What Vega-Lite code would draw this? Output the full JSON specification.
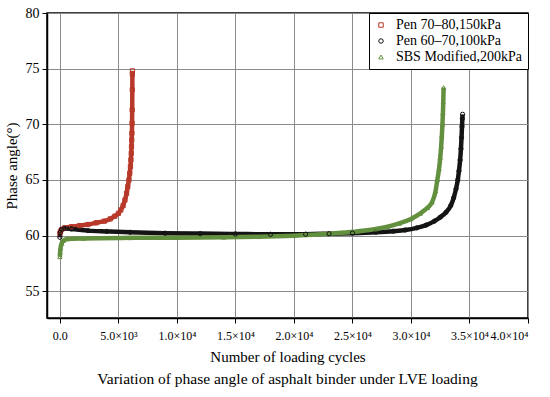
{
  "$schema": "https://vega.github.io/schema/vega-lite/v6.json",
  "width": 481,
  "height": 305,
  "autosize": "none",
  "padding": {"left": 47, "top": 13, "right": 22, "bottom": 79},
  "background": "white",
  "config": {
    "font": "Liberation Serif",
    "view": {"stroke": "black", "strokeWidth": 1.5},
    "axis": {
      "labelFont": "Liberation Serif",
      "titleFont": "Liberation Serif",
      "labelColor": "black",
      "titleColor": "black",
      "titleFontWeight": "normal",
      "domainColor": "black",
      "domainWidth": 1.5,
      "tickColor": "black",
      "tickWidth": 1,
      "tickSize": 5,
      "gridColor": "#8a8a8a",
      "gridWidth": 1,
      "gridOpacity": 1
    },
    "legend": {
      "labelFont": "Liberation Serif",
      "labelColor": "black"
    }
  },
  "title": {
    "text": "Variation of phase angle of asphalt binder under LVE loading",
    "orient": "bottom",
    "font": "Liberation Serif",
    "fontSize": 15.5,
    "fontWeight": "normal",
    "color": "black",
    "offset": 8
  },
  "data": {
    "values": [
      {"s": "Pen 70–80,150kPa", "n": 0, "p": 60.2},
      {"s": "Pen 70–80,150kPa", "n": 50, "p": 60.4},
      {"s": "Pen 70–80,150kPa", "n": 150, "p": 60.55},
      {"s": "Pen 70–80,150kPa", "n": 400, "p": 60.7},
      {"s": "Pen 70–80,150kPa", "n": 1000, "p": 60.8},
      {"s": "Pen 70–80,150kPa", "n": 1700, "p": 60.9},
      {"s": "Pen 70–80,150kPa", "n": 2400, "p": 61.0},
      {"s": "Pen 70–80,150kPa", "n": 3100, "p": 61.15},
      {"s": "Pen 70–80,150kPa", "n": 3800, "p": 61.3},
      {"s": "Pen 70–80,150kPa", "n": 4300, "p": 61.5},
      {"s": "Pen 70–80,150kPa", "n": 4700, "p": 61.75},
      {"s": "Pen 70–80,150kPa", "n": 5000, "p": 62.0},
      {"s": "Pen 70–80,150kPa", "n": 5200, "p": 62.3},
      {"s": "Pen 70–80,150kPa", "n": 5400, "p": 62.7},
      {"s": "Pen 70–80,150kPa", "n": 5560, "p": 63.2},
      {"s": "Pen 70–80,150kPa", "n": 5700, "p": 63.8},
      {"s": "Pen 70–80,150kPa", "n": 5800, "p": 64.4},
      {"s": "Pen 70–80,150kPa", "n": 5900, "p": 65.0},
      {"s": "Pen 70–80,150kPa", "n": 5970, "p": 65.6},
      {"s": "Pen 70–80,150kPa", "n": 6030, "p": 66.2},
      {"s": "Pen 70–80,150kPa", "n": 6070, "p": 66.8},
      {"s": "Pen 70–80,150kPa", "n": 6100, "p": 67.4},
      {"s": "Pen 70–80,150kPa", "n": 6120, "p": 68.0},
      {"s": "Pen 70–80,150kPa", "n": 6140, "p": 68.6},
      {"s": "Pen 70–80,150kPa", "n": 6155, "p": 69.2},
      {"s": "Pen 70–80,150kPa", "n": 6170, "p": 70.1},
      {"s": "Pen 70–80,150kPa", "n": 6180, "p": 71.3},
      {"s": "Pen 70–80,150kPa", "n": 6190, "p": 73.1},
      {"s": "Pen 70–80,150kPa", "n": 6195, "p": 74.5},
      {"s": "Pen 70–80,150kPa", "n": 6200, "p": 74.8},
      {"s": "Pen 60–70,100kPa", "n": 0, "p": 59.85},
      {"s": "Pen 60–70,100kPa", "n": 40, "p": 60.3},
      {"s": "Pen 60–70,100kPa", "n": 150, "p": 60.55},
      {"s": "Pen 60–70,100kPa", "n": 400, "p": 60.65},
      {"s": "Pen 60–70,100kPa", "n": 1000, "p": 60.6},
      {"s": "Pen 60–70,100kPa", "n": 2400, "p": 60.45},
      {"s": "Pen 60–70,100kPa", "n": 4000, "p": 60.38},
      {"s": "Pen 60–70,100kPa", "n": 6000, "p": 60.3},
      {"s": "Pen 60–70,100kPa", "n": 9000, "p": 60.22},
      {"s": "Pen 60–70,100kPa", "n": 12000, "p": 60.18},
      {"s": "Pen 60–70,100kPa", "n": 15000, "p": 60.15},
      {"s": "Pen 60–70,100kPa", "n": 18000, "p": 60.12},
      {"s": "Pen 60–70,100kPa", "n": 21000, "p": 60.13},
      {"s": "Pen 60–70,100kPa", "n": 23000, "p": 60.17},
      {"s": "Pen 60–70,100kPa", "n": 25000, "p": 60.22},
      {"s": "Pen 60–70,100kPa", "n": 27000, "p": 60.3},
      {"s": "Pen 60–70,100kPa", "n": 28500, "p": 60.4},
      {"s": "Pen 60–70,100kPa", "n": 29500, "p": 60.5},
      {"s": "Pen 60–70,100kPa", "n": 30500, "p": 60.7},
      {"s": "Pen 60–70,100kPa", "n": 31300, "p": 60.95},
      {"s": "Pen 60–70,100kPa", "n": 32000, "p": 61.3},
      {"s": "Pen 60–70,100kPa", "n": 32500, "p": 61.65},
      {"s": "Pen 60–70,100kPa", "n": 33000, "p": 62.1},
      {"s": "Pen 60–70,100kPa", "n": 33400, "p": 62.7},
      {"s": "Pen 60–70,100kPa", "n": 33650, "p": 63.4},
      {"s": "Pen 60–70,100kPa", "n": 33850, "p": 64.2},
      {"s": "Pen 60–70,100kPa", "n": 34000, "p": 65.0},
      {"s": "Pen 60–70,100kPa", "n": 34100, "p": 65.8},
      {"s": "Pen 60–70,100kPa", "n": 34200, "p": 66.8},
      {"s": "Pen 60–70,100kPa", "n": 34270, "p": 67.8},
      {"s": "Pen 60–70,100kPa", "n": 34320, "p": 68.8},
      {"s": "Pen 60–70,100kPa", "n": 34360, "p": 69.8},
      {"s": "Pen 60–70,100kPa", "n": 34390, "p": 70.5},
      {"s": "Pen 60–70,100kPa", "n": 34410, "p": 70.9},
      {"s": "SBS Modified,200kPa", "n": 0, "p": 58.1},
      {"s": "SBS Modified,200kPa", "n": 20, "p": 58.5},
      {"s": "SBS Modified,200kPa", "n": 60, "p": 58.9},
      {"s": "SBS Modified,200kPa", "n": 150, "p": 59.3},
      {"s": "SBS Modified,200kPa", "n": 300, "p": 59.55},
      {"s": "SBS Modified,200kPa", "n": 600, "p": 59.7},
      {"s": "SBS Modified,200kPa", "n": 2000, "p": 59.75},
      {"s": "SBS Modified,200kPa", "n": 6000, "p": 59.8},
      {"s": "SBS Modified,200kPa", "n": 10000, "p": 59.82},
      {"s": "SBS Modified,200kPa", "n": 14000, "p": 59.85},
      {"s": "SBS Modified,200kPa", "n": 17000, "p": 59.9},
      {"s": "SBS Modified,200kPa", "n": 20000, "p": 60.0},
      {"s": "SBS Modified,200kPa", "n": 22000, "p": 60.1},
      {"s": "SBS Modified,200kPa", "n": 24000, "p": 60.25},
      {"s": "SBS Modified,200kPa", "n": 25500, "p": 60.4},
      {"s": "SBS Modified,200kPa", "n": 27000, "p": 60.6},
      {"s": "SBS Modified,200kPa", "n": 28000, "p": 60.8},
      {"s": "SBS Modified,200kPa", "n": 29000, "p": 61.1},
      {"s": "SBS Modified,200kPa", "n": 30000, "p": 61.5},
      {"s": "SBS Modified,200kPa", "n": 30800, "p": 62.0},
      {"s": "SBS Modified,200kPa", "n": 31400, "p": 62.5},
      {"s": "SBS Modified,200kPa", "n": 31800, "p": 63.0},
      {"s": "SBS Modified,200kPa", "n": 32100, "p": 64.0},
      {"s": "SBS Modified,200kPa", "n": 32250, "p": 65.0},
      {"s": "SBS Modified,200kPa", "n": 32400, "p": 66.0},
      {"s": "SBS Modified,200kPa", "n": 32500, "p": 67.0},
      {"s": "SBS Modified,200kPa", "n": 32580, "p": 68.0},
      {"s": "SBS Modified,200kPa", "n": 32640, "p": 69.0},
      {"s": "SBS Modified,200kPa", "n": 32690, "p": 70.0},
      {"s": "SBS Modified,200kPa", "n": 32730, "p": 71.0},
      {"s": "SBS Modified,200kPa", "n": 32760, "p": 72.0},
      {"s": "SBS Modified,200kPa", "n": 32790, "p": 73.3}
    ]
  },
  "encoding": {
    "x": {
      "field": "n",
      "type": "quantitative",
      "scale": {"domain": [-1100, 40000], "nice": false, "zero": false},
      "axis": {
        "title": "Number of loading cycles",
        "titleFontSize": 15,
        "titlePadding": 8,
        "labelFontSize": 12,
        "labelPadding": 7,
        "values": [0, 5000, 10000, 15000, 20000, 25000, 30000, 35000, 40000],
        "labelExpr": "datum.value == 0 ? '0.0' : (datum.value < 10000 ? format(datum.value / 1000, '.1f') + '×10³' : format(datum.value / 10000, '.1f') + '×10⁴')"
      }
    },
    "y": {
      "field": "p",
      "type": "quantitative",
      "scale": {"domain": [52.6, 80], "nice": false, "zero": false},
      "axis": {
        "title": "Phase angle(°)",
        "titleFontSize": 15,
        "titlePadding": 6,
        "labelFontSize": 14,
        "labelPadding": 3,
        "values": [55, 60, 65, 70, 75, 80]
      }
    },
    "color": {
      "field": "s",
      "type": "nominal",
      "sort": ["Pen 70–80,150kPa", "Pen 60–70,100kPa", "SBS Modified,200kPa"],
      "scale": {
        "domain": ["Pen 70–80,150kPa", "Pen 60–70,100kPa", "SBS Modified,200kPa"],
        "range": ["#b8392a", "#141414", "#62903f"]
      }
    }
  },
  "layer": [
    {
      "mark": {"type": "line", "strokeWidth": 4.5, "interpolate": "monotone"},
      "encoding": {
        "order": {"field": "n", "type": "quantitative"}
      }
    },
    {
      "mark": {"type": "point", "filled": false, "size": 18, "strokeWidth": 1, "opacity": 1},
      "encoding": {
        "shape": {
          "field": "s",
          "type": "nominal",
          "sort": ["Pen 70–80,150kPa", "Pen 60–70,100kPa", "SBS Modified,200kPa"],
          "scale": {
            "domain": ["Pen 70–80,150kPa", "Pen 60–70,100kPa", "SBS Modified,200kPa"],
            "range": ["square", "circle", "triangle-up"]
          },
          "legend": {
            "title": null,
            "orient": "top-right",
            "offset": 0,
            "padding": 5,
            "strokeColor": "black",
            "fillColor": "white",
            "labelFontSize": 14,
            "symbolSize": 20,
            "symbolStrokeWidth": 1,
            "symbolOpacity": 0.7,
            "rowPadding": 2,
            "labelOffset": 8
          }
        }
      }
    }
  ]
}
